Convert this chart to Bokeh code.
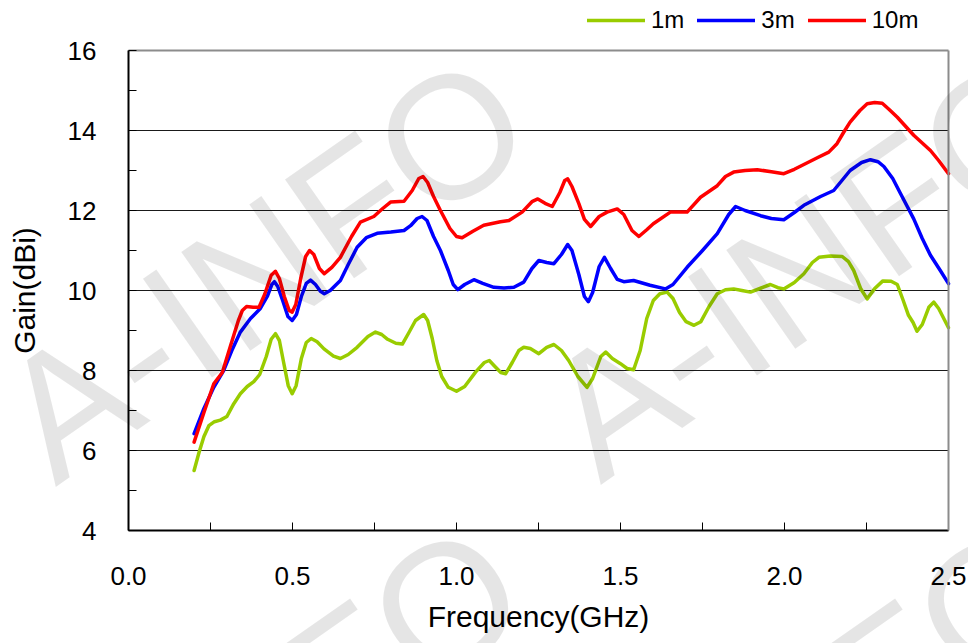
from bokeh.plotting import figure
from bokeh.models import (ColumnDataSource, FixedTicker, PrintfTickFormatter, Legend, LegendItem,
                          Label, Range1d, LinearAxis)
from bokeh.embed import file_html
from bokeh.resources import INLINE

# ---- data ----
f_1m = [0.200, 0.215, 0.230, 0.245, 0.262, 0.280, 0.300, 0.321, 0.341, 0.362, 0.382, 0.400, 0.420,
        0.435, 0.448, 0.460, 0.473, 0.487, 0.499, 0.511, 0.527, 0.542, 0.557, 0.575, 0.596, 0.625,
        0.646, 0.670, 0.697, 0.730, 0.753, 0.772, 0.790, 0.815, 0.835, 0.855, 0.875, 0.900, 0.912,
        0.926, 0.940, 0.955, 0.975, 1.000, 1.025, 1.058, 1.085, 1.100, 1.115, 1.135, 1.150, 1.170,
        1.190, 1.205, 1.225, 1.251, 1.275, 1.297, 1.320, 1.342, 1.370, 1.398, 1.415, 1.440, 1.455,
        1.475, 1.500, 1.520, 1.540, 1.560, 1.580, 1.600, 1.620, 1.642, 1.660, 1.680, 1.700, 1.724,
        1.745, 1.770, 1.795, 1.820, 1.845, 1.870, 1.896, 1.925, 1.957, 1.980, 1.998, 2.030, 2.059,
        2.085, 2.105, 2.140, 2.176, 2.195, 2.211, 2.232, 2.252, 2.275, 2.300, 2.325, 2.344, 2.362,
        2.378, 2.392, 2.404, 2.420, 2.440, 2.455, 2.470, 2.500]
g_1m = [5.50, 5.95, 6.35, 6.62, 6.72, 6.76, 6.85, 7.17, 7.42, 7.60, 7.72, 7.90, 8.35,
        8.78, 8.92, 8.75, 8.20, 7.62, 7.42, 7.62, 8.30, 8.70, 8.80, 8.72, 8.54, 8.36,
        8.30, 8.40, 8.58, 8.85, 8.96, 8.90, 8.78, 8.68, 8.66, 8.95, 9.25, 9.40, 9.25,
        8.80, 8.25, 7.85, 7.58, 7.48, 7.60, 7.96, 8.20, 8.25, 8.12, 7.95, 7.92, 8.20,
        8.50, 8.58, 8.55, 8.42, 8.58, 8.65, 8.50, 8.25, 7.85, 7.58, 7.80, 8.35, 8.46,
        8.30, 8.17, 8.05, 8.02, 8.50, 9.30, 9.75, 9.92, 9.96, 9.80, 9.45, 9.22, 9.13,
        9.22, 9.60, 9.92, 10.02, 10.04, 10.00, 9.96, 10.05, 10.15, 10.07, 10.04, 10.20, 10.42,
        10.70, 10.83, 10.86, 10.85, 10.72, 10.50, 10.05, 9.79, 10.05, 10.24, 10.23, 10.15, 9.75,
        9.38, 9.20, 8.98, 9.15, 9.58, 9.71, 9.55, 9.07]

f_3m = [0.200, 0.230, 0.260, 0.290, 0.315, 0.341, 0.372, 0.402, 0.423, 0.437, 0.445, 0.455, 0.470,
        0.486, 0.499, 0.512, 0.527, 0.542, 0.555, 0.570, 0.585, 0.597, 0.615, 0.646, 0.670, 0.697,
        0.725, 0.758, 0.800, 0.840, 0.860, 0.880, 0.895, 0.910, 0.930, 0.951, 0.975, 0.990, 1.004,
        1.025, 1.053, 1.080, 1.114, 1.145, 1.175, 1.205, 1.230, 1.251, 1.275, 1.297, 1.320, 1.339,
        1.352, 1.373, 1.390, 1.402, 1.415, 1.435, 1.451, 1.470, 1.490, 1.510, 1.540, 1.590, 1.637,
        1.660, 1.703, 1.750, 1.795, 1.830, 1.851, 1.880, 1.927, 1.960, 1.998, 2.030, 2.059, 2.110,
        2.150, 2.175, 2.200, 2.235, 2.262, 2.285, 2.303, 2.330, 2.354, 2.394, 2.420, 2.445, 2.475,
        2.500]
g_3m = [6.42, 7.05, 7.58, 8.00, 8.50, 8.96, 9.30, 9.55, 9.85, 10.15, 10.22, 10.10, 9.75,
        9.35, 9.25, 9.40, 9.85, 10.18, 10.26, 10.15, 9.98, 9.92, 10.00, 10.25, 10.65, 11.08,
        11.32, 11.43, 11.46, 11.50, 11.62, 11.80, 11.85, 11.75, 11.35, 11.00, 10.50, 10.15, 10.02,
        10.15, 10.27, 10.18, 10.08, 10.06, 10.08, 10.21, 10.55, 10.75, 10.70, 10.67, 10.90, 11.15,
        11.00, 10.40, 9.85, 9.72, 9.95, 10.60, 10.83, 10.55, 10.28, 10.22, 10.25, 10.13, 10.04,
        10.15, 10.58, 11.00, 11.42, 11.90, 12.10, 12.00, 11.87, 11.80, 11.77, 11.95, 12.13, 12.35,
        12.50, 12.75, 13.00, 13.20, 13.27, 13.22, 13.10, 12.80, 12.42, 11.79, 11.30, 10.88, 10.50,
        10.17]

f_10m = [0.200, 0.230, 0.260, 0.286, 0.316, 0.335, 0.347, 0.360, 0.380, 0.398, 0.415, 0.435, 0.448,
         0.460, 0.475, 0.490, 0.499, 0.510, 0.525, 0.540, 0.552, 0.565, 0.582, 0.597, 0.620, 0.646,
         0.680, 0.707, 0.748, 0.775, 0.799, 0.840, 0.865, 0.885, 0.898, 0.912, 0.930, 0.951, 0.980,
         1.000, 1.017, 1.050, 1.083, 1.134, 1.160, 1.200, 1.230, 1.248, 1.270, 1.292, 1.315, 1.330,
         1.339, 1.352, 1.373, 1.390, 1.409, 1.435, 1.459, 1.490, 1.510, 1.535, 1.556, 1.580, 1.600,
         1.652, 1.703, 1.744, 1.795, 1.820, 1.845, 1.880, 1.917, 1.960, 1.998, 2.030, 2.059, 2.100,
         2.135, 2.160, 2.180, 2.200, 2.230, 2.252, 2.275, 2.298, 2.320, 2.344, 2.394, 2.445, 2.470,
         2.500]
g_10m = [6.21, 6.95, 7.67, 7.95, 8.75, 9.25, 9.50, 9.60, 9.58, 9.58, 9.90, 10.38, 10.48,
         10.30, 9.85, 9.50, 9.46, 9.65, 10.30, 10.85, 11.00, 10.90, 10.55, 10.42, 10.58, 10.83,
         11.35, 11.71, 11.85, 12.05, 12.21, 12.23, 12.50, 12.80, 12.85, 12.70, 12.35, 12.00, 11.55,
         11.35, 11.32, 11.48, 11.63, 11.72, 11.75, 11.96, 12.22, 12.29, 12.18, 12.10, 12.45, 12.75,
         12.79, 12.60, 12.17, 11.78, 11.60, 11.85, 11.96, 12.04, 11.90, 11.50, 11.35, 11.52, 11.67,
         11.96, 11.96, 12.33, 12.62, 12.85, 12.96, 13.00, 13.02, 12.97, 12.92, 13.03, 13.15, 13.32,
         13.46, 13.67, 13.95, 14.21, 14.50, 14.67, 14.70, 14.68, 14.52, 14.33, 13.88, 13.50, 13.25,
         12.92]

series_names = ["1m", "3m", "10m"]
series_colors = ["#99CC00", "#0000FF", "#FF0000"]

x_ticks = [0.0, 0.5, 1.0, 1.5, 2.0, 2.5]
x_minor = [0.25, 0.75, 1.25, 1.75, 2.25]
y_ticks = [4, 6, 8, 10, 12, 14, 16]
y_minor = [5, 7, 9, 11, 13, 15]
grid_vals = [6, 8, 10, 12, 14]
x_lo, x_hi = 0.0, 2.5
y_lo, y_hi = 4, 16

# ---- layout geometry (pixels) ----
W, H = 968, 643
PL, PR, PT, PB = 128, 948, 50, 530          # plot-area edges on the canvas
sx = (PR - PL) / (x_hi - x_lo)
sy = (PB - PT) / (y_hi - y_lo)
xr = Range1d(x_lo - PL / sx, x_hi + (W - PR) / sx)
yr = Range1d(y_lo - (H - PB) / sy, y_hi + PT / sy)

FONT = "Liberation Sans"

p = figure(width=W, height=H, output_backend="svg", toolbar_location=None,
           x_range=xr, y_range=yr, x_axis_type=None, y_axis_type=None, min_border=0)
p.background_fill_color = "white"
p.border_fill_color = "white"
p.outline_line_color = None


def style_axis(ax):
    ax.axis_line_color = "black"
    ax.axis_line_width = 2
    ax.major_tick_in = 8
    ax.major_tick_out = 0
    ax.minor_tick_in = 8
    ax.minor_tick_out = 0
    ax.major_tick_line_color = "black"
    ax.minor_tick_line_color = "black"
    ax.major_label_text_font = FONT
    ax.major_label_text_font_size = "26px"
    ax.major_label_text_color = "black"
    ax.axis_label_text_font = FONT
    ax.axis_label_text_font_size = "30px"
    ax.axis_label_text_font_style = "normal"
    ax.axis_label_text_color = "black"


def plain_axis(ticks, loc, bounds, color, width, tick_len):
    ax = LinearAxis(fixed_location=loc, bounds=bounds, ticker=FixedTicker(ticks=ticks),
                    axis_line_color=color, axis_line_width=width,
                    major_tick_in=tick_len, major_tick_out=0, major_tick_line_color="#1A1A1A",
                    major_tick_line_width=1, minor_tick_line_color=None,
                    major_label_text_font_size="0px", major_label_text_color=None)
    return ax


# horizontal grid lines (as long inward ticks) drawn beneath the curves
grid_ax = plain_axis(grid_vals, x_lo, (y_lo, y_hi), None, 1, PR - PL)
grid_ax.level = "underlay"
p.add_layout(grid_ax, "left")

# grey frame on top and right
top_ax = plain_axis([], y_hi, (x_lo, x_hi), "#8C8C8C", 2, 0)
p.add_layout(top_ax, "above")
right_ax = plain_axis([], x_hi, (y_lo, y_hi), "#8C8C8C", 2, 0)
p.add_layout(right_ax, "right")

# real axes
xa = LinearAxis(fixed_location=y_lo, bounds=(x_lo, x_hi),
                ticker=FixedTicker(ticks=x_ticks, minor_ticks=x_minor),
                formatter=PrintfTickFormatter(format="%.1f"), axis_label="Frequency(GHz)")
style_axis(xa)
xa.major_label_standoff = 36
xa.axis_label_standoff = 12
p.add_layout(xa, "below")

ya = LinearAxis(fixed_location=x_lo, bounds=(y_lo, y_hi),
                ticker=FixedTicker(ticks=y_ticks, minor_ticks=y_minor), axis_label="Gain(dBi)")
style_axis(ya)
ya.major_label_standoff = 32
ya.axis_label_standoff = 24
p.add_layout(ya, "left")

renderers = []
for fx, gy, col in [(f_1m, g_1m, series_colors[0]), (f_3m, g_3m, series_colors[1]),
                    (f_10m, g_10m, series_colors[2])]:
    src = ColumnDataSource(dict(x=fx, y=gy))
    r = p.line("x", "y", source=src, line_color=col, line_width=3.5, line_join="round",
               line_cap="round")
    renderers.append(r)

legend = Legend(items=[LegendItem(label=n, renderers=[r]) for n, r in zip(series_names, renderers)],
                orientation="horizontal", location=(587, H - 34),
                glyph_width=58, glyph_height=20, label_standoff=6, spacing=13,
                padding=0, margin=0, border_line_color=None, background_fill_alpha=0,
                label_text_font=FONT, label_text_font_size="24px", label_text_color="black")
p.add_layout(legend)

# watermark (screen position of the right end of each copy, from top-left of canvas)
wm_text = "A-INFO"
for (wx, wy) in [(506, 97), (1051, 95), (501, 565), (1046, 565)]:
    p.add_layout(Label(x=wx, y=H - wy, x_units="screen", y_units="screen", text=wm_text,
                       angle=35, angle_units="deg", text_align="right", text_baseline="middle",
                       text_font=FONT, text_font_size="175px", text_color="black", text_alpha=0.1))

open("out.html", "w").write(file_html(p, INLINE))
